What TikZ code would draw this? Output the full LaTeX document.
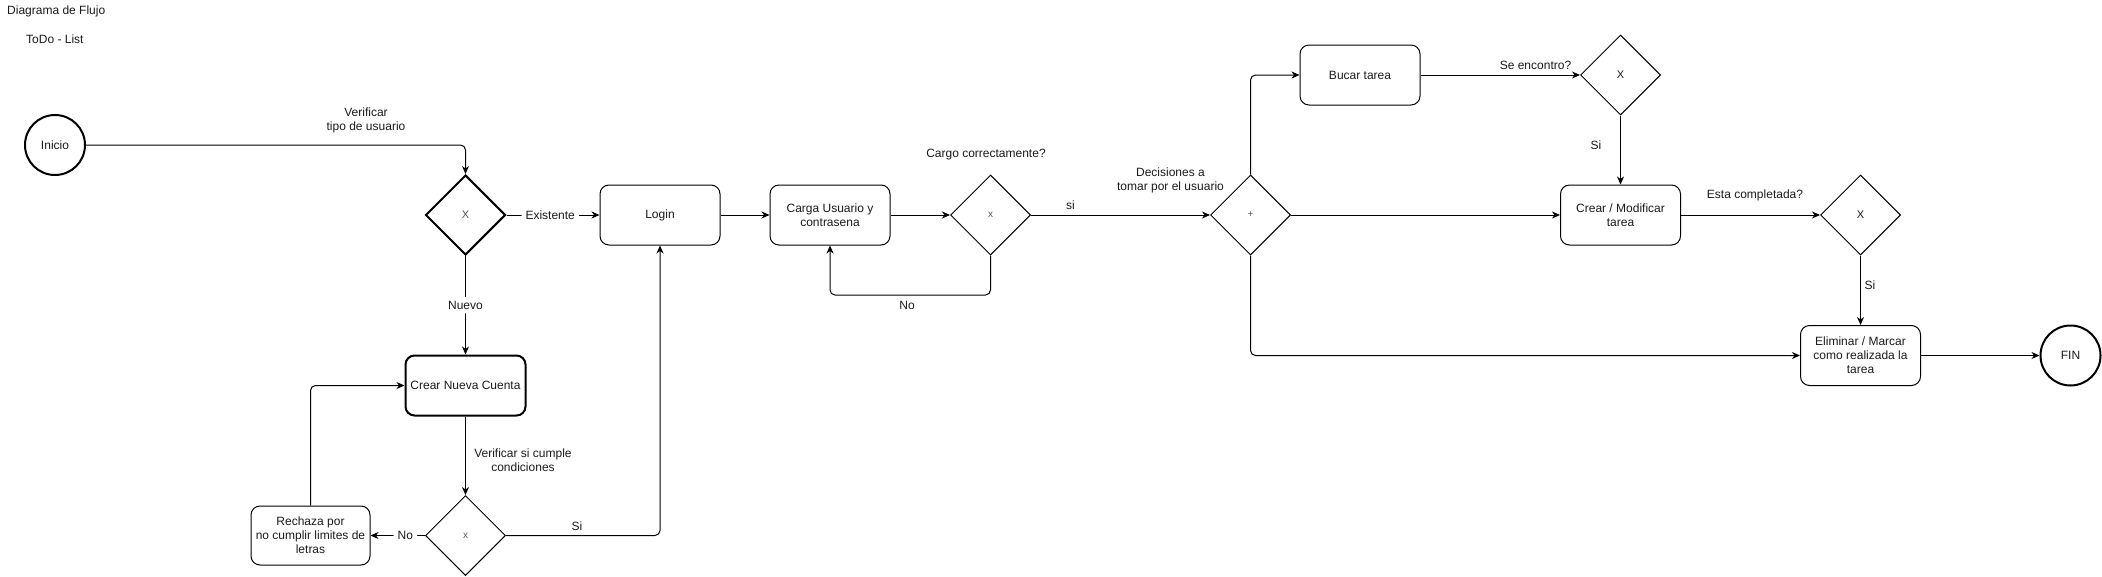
\documentclass[tikz,border=0pt]{standalone}
\usepackage{fontspec}
\setmainfont{Liberation Sans}
\usetikzlibrary{shapes.geometric,arrows.meta}
\definecolor{ink}{HTML}{1A1A1A}
\definecolor{gtxt}{HTML}{555555}
\begin{document}
\begin{tikzpicture}[x=1pt,y=-1pt,
  every node/.style={font=\fontsize{12}{14}\selectfont, text=ink},
  proc/.style={draw=black, rounded corners=9pt, minimum width=120pt, minimum height=60pt, align=center, inner sep=2pt, line width=1pt},
  procthick/.style={proc, line width=2pt},
  gate/.style={draw=black, diamond, aspect=1, minimum width=80pt, minimum height=80pt, inner sep=0pt, line width=1pt, font=\fontsize{10}{12}\selectfont, text=gtxt},
  gatethick/.style={gate, line width=2pt},
  term/.style={draw=black, circle, minimum size=60pt, line width=2pt, inner sep=0pt},
  arr/.style={-{Stealth[length=8pt,width=7pt,inset=2.5pt]}, line width=1pt, rounded corners=5pt},
  lab/.style={align=center, inner sep=1pt},
  elab/.style={fill=white, inner sep=4pt}
]
\useasboundingbox (0,0) rectangle (2102,576);

% titles
\node[lab, anchor=west] (t1) at (6,11) {Diagrama de Flujo};
\node[lab, anchor=west] (t2) at (25,39.5) {ToDo - List};

% nodes
\node[term] (inicio) at (55,145) {Inicio};
\node[gatethick, font=\fontsize{11}{13}\selectfont] (d1) at (465.5,215) {X};
\node[proc] (login) at (660,215) {Login};
\node[proc] (carga) at (830,215) {Carga Usuario y\\contrasena};
\node[gate] (d2) at (990.5,215) {x};
\node[gate] (plus) at (1250.5,215) {+};
\node[proc] (bucar) at (1360,75) {Bucar tarea};
\node[gate, font=\fontsize{11}{13}\selectfont, text=ink] (d4) at (1620.5,75) {X};
\node[proc] (crearmod) at (1620.5,215) {Crear / Modificar\\tarea};
\node[gate, font=\fontsize{11}{13}\selectfont, text=ink] (d5) at (1860.5,215) {X};
\node[proc] (elim) at (1860.5,355.5) {Eliminar / Marcar\\como realizada la\\tarea};
\node[term] (fin) at (2070.5,355.5) {FIN};
\node[procthick] (crear) at (465.5,385.5) {Crear Nueva Cuenta};
\node[gate] (d3) at (465.5,535.5) {x};
\node[proc, minimum width=119pt, minimum height=59pt] (rech) at (310.5,535.5) {Rechaza por\\no cumplir limites de\\letras};

% free labels
\node[lab] (lverif) at (366,120.5) {Verificar\\tipo de usuario};
\node[lab] (lcumple) at (523,460.5) {Verificar si cumple\\condiciones};
\node[lab] (lsi1) at (577,526) {Si};
\node[lab] (lcargo) at (986,155) {Cargo correctamente?};
\node[lab] (lno2) at (907,305.5) {No};
\node[lab] (lsi2) at (1070.5,205) {si};
\node[lab] (ldec) at (1170.5,180) {Decisiones a\\tomar por el usuario};
\node[lab] (lenc) at (1535.5,65) {Se encontro?};
\node[lab] (lsi3) at (1596,145.5) {Si};
\node[lab] (lcomp) at (1755,195) {Esta completada?};
\node[lab] (lsi4) at (1870,285) {Si};

\coordinate (lp) at (900,295);

% connectors
\draw[arr] (inicio.east) -| (d1.north);
\draw[arr] (d1.east) -- node[elab, pos=0.47] {Existente} (login.west);
\draw[arr] (d1.south) -- node[elab] {Nuevo} (crear.north);
\draw[arr] (crear.south) -- (d3.north);
\draw[arr] (d3.west) -- node[elab, pos=0.36] {No} (rech.east);
\draw[arr] (rech.north) |- (crear.west);
\draw[arr] (d3.east) -| (login.south);
\draw[arr] (login.east) -- (carga.west);
\draw[arr] (carga.east) -- (d2.west);
\draw[arr] (d2.south) |- (lp) -| (carga.south);
\draw[arr] (d2.east) -- (plus.west);
\draw[arr] (plus.north) |- (bucar.west);
\draw[arr] (bucar.east) -- (d4.west);
\draw[arr] (d4.south) -- (crearmod.north);
\draw[arr] (plus.east) -- (crearmod.west);
\draw[arr] (crearmod.east) -- (d5.west);
\draw[arr] (d5.south) -- (elim.north);
\draw[arr] (plus.south) |- (elim.west);
\draw[arr] (elim.east) -- (fin.west);
\end{tikzpicture}
\end{document}
